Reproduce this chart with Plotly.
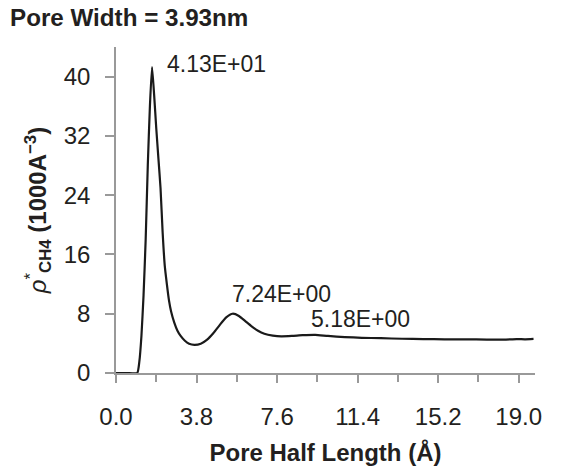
import plotly.graph_objects as go

# Data
pore_half_length = [0.0, 0.5, 1.0, 1.1, 1.2, 1.3, 1.4, 1.5, 1.6, 1.7, 1.8, 1.9, 2.0, 2.1, 2.2,
                    2.3, 2.4, 2.5, 2.6, 2.75, 2.9, 3.05, 3.25, 3.45, 3.7, 4.0, 4.3, 4.6, 4.9,
                    5.2, 5.5, 5.8, 6.1, 6.4, 6.7, 7.0, 7.4, 7.8, 8.3, 8.8, 9.4, 10.0, 10.8,
                    11.6, 12.5, 13.5, 14.5, 15.5, 16.5, 17.5, 18.3, 18.9, 19.3, 19.7]
density = [0.0, 0.0, 0.0, 1.5, 5.0, 10.5, 18.0, 28.0, 36.0, 41.3, 37.5, 33.0, 29.0, 25.0, 19.0,
           14.5, 12.0, 9.8, 8.3, 6.8, 5.7, 5.0, 4.35, 3.95, 3.8, 3.95, 4.5, 5.4, 6.5,
           7.5, 8.0, 7.7, 7.0, 6.3, 5.7, 5.3, 5.05, 4.95, 5.0, 5.1, 5.15, 5.0, 4.85,
           4.75, 4.7, 4.62, 4.58, 4.55, 4.55, 4.5, 4.5, 4.58, 4.55, 4.6]

peak_labels = ["4.13E+01", "7.24E+00", "5.18E+00"]
peak_label_x = [2.31, 5.38, 9.12]
peak_label_y = [41.7, 10.7, 7.34]

x_tickvals = [0.0, 3.8, 7.6, 11.4, 15.2, 19.0]
x_ticktext = ["0.0", "3.8", "7.6", "11.4", "15.2", "19.0"]
y_tickvals = [0, 8, 16, 24, 32, 40]

TXT = "#231f20"
AX = "#999999"
FONT = "Liberation Sans, Arial, Helvetica, sans-serif"

fig = go.Figure()
fig.add_trace(go.Scatter(
    x=pore_half_length, y=density, mode="lines",
    line=dict(color="#1a1a1a", width=2.2, shape="spline", smoothing=0.5),
    hoverinfo="skip", showlegend=False,
))

for t, xx, yy in zip(peak_labels, peak_label_x, peak_label_y):
    fig.add_annotation(x=xx, y=yy, text=t, showarrow=False, xanchor="left", yanchor="middle",
                       font=dict(family=FONT, size=23, color=TXT))

fig.add_annotation(xref="paper", yref="paper", x=-108/419, y=1+30/326, text="<b>Pore Width = 3.93nm</b>",
                   showarrow=False, xanchor="left", yanchor="middle",
                   font=dict(family=FONT, size=24.2, color=TXT))

fig.update_layout(
    width=568, height=469,
    margin=dict(l=116, r=33, t=47, b=96),
    paper_bgcolor="white", plot_bgcolor="white",
    font=dict(family=FONT, color=TXT),
    xaxis=dict(
        range=[0, 19.77], showgrid=False, zeroline=False, automargin=False,
        showline=True, linecolor=AX, linewidth=1.5,
        tickmode="array", tickvals=x_tickvals, ticktext=x_ticktext,
        ticks="outside", ticklen=8, tickcolor=AX, tickwidth=1.5,
        minor=dict(tickmode="linear", tick0=0, dtick=1.9, ticks="outside", ticklen=7,
                   tickcolor=AX, tickwidth=1.5, showgrid=False),
        ticklabelstandoff=13,
        tickfont=dict(family=FONT, size=24, color=TXT),
        title=dict(text="<b>Pore Half Length (Å)</b>", standoff=16,
                   font=dict(family=FONT, size=24, color=TXT)),
    ),
    yaxis=dict(
        range=[0, 44], showgrid=False, zeroline=False, automargin=False,
        showline=True, linecolor=AX, linewidth=1.5,
        tickmode="array", tickvals=y_tickvals,
        ticks="outside", ticklen=9, tickcolor=AX, tickwidth=1.5,
        ticklabelstandoff=10,
        tickfont=dict(family=FONT, size=24, color=TXT),
        title=dict(text="<i>ρ</i><sup>*</sup><b><sub>CH4</sub> (1000A<sup>−3</sup>)</b>", standoff=10,
                   font=dict(family=FONT, size=24, color=TXT)),
    ),
)

fig.write_html("out.html")
